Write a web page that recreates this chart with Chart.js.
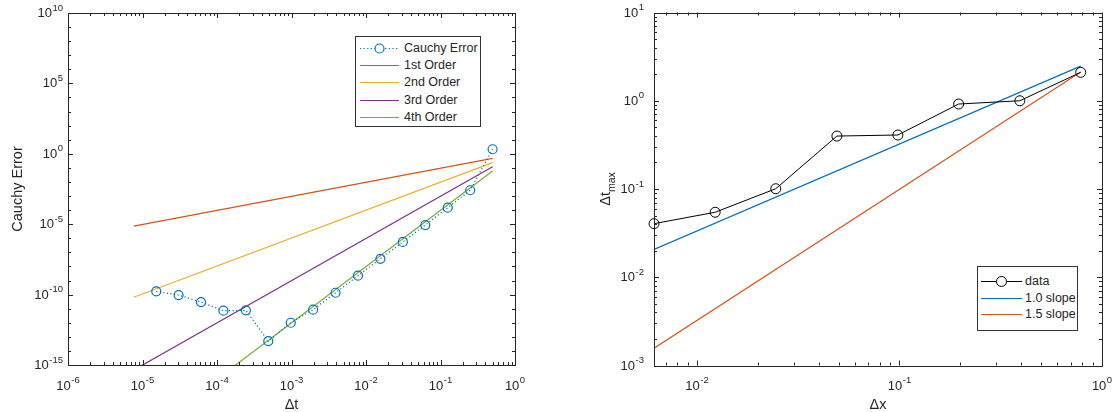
<!DOCTYPE html>
<html>
<head>
<meta charset="utf-8">
<script src="https://cdn.jsdelivr.net/npm/chart.js@4"></script>
<style>
  html, body { margin: 0; padding: 0; background: #fff; }
  body { width: 1113px; height: 412px; position: relative; overflow: hidden; font-family: "Liberation Sans", Arial, sans-serif; }
  .panel { position: absolute; top: 0; }
  .legend { position: absolute; background: #fff; border: 1px solid #333; box-sizing: border-box; font-size: 12.5px; color: #262626; }
  .legend .row { position: absolute; left: 0; height: 16px; display: flex; align-items: center; white-space: nowrap; }
  .legend svg { display: block; }
</style>
</head>
<body>
<div class="panel" style="left:0;width:556px;height:412px;"><canvas id="c1" width="556" height="412"></canvas></div>
<div class="panel" style="left:556px;width:557px;height:412px;"><canvas id="c2" width="557" height="412"></canvas></div>
<div id="leg1" class="legend" style="left:355px;top:36px;width:126px;height:91px;"></div>
<div id="leg2" class="legend" style="left:977px;top:266px;width:101px;height:65px;"></div>
<script>
// ---------- Left panel data ----------
const dtValues = [0.0000153, 0.0000305, 0.000061, 0.000122, 0.000244, 0.000488, 0.000977, 0.00195, 0.0039, 0.0078, 0.0156, 0.03125, 0.0625, 0.125, 0.25, 0.5];
const cauchyError = [1.7e-10, 9.3e-11, 2.95e-11, 7.2e-12, 7.6e-12, 5.0e-14, 1.0e-12, 8.5e-12, 1.35e-10, 2.2e-9, 3.5e-8, 5.5e-7, 8.7e-6, 1.48e-4, 2.57e-3, 2.1];
const orderDt = [7.63e-6, 0.5];
const order1 = [7.4e-6, 0.48];
const order2 = [6.5e-11, 0.234];
const order3 = [4.4e-16, 0.12];
const order4 = [3.4e-21, 0.06];
const leftXTicks = [1e-6, 1e-5, 1e-4, 1e-3, 1e-2, 1e-1, 1];
const leftYTicks = [1e-15, 1e-10, 1e-5, 1, 1e5, 1e10];

// ---------- Right panel data ----------
const dxValues = [0.00614, 0.0123, 0.0245, 0.0491, 0.0982, 0.196, 0.393, 0.785];
const dtMax = [0.0405, 0.0545, 0.1007, 0.398, 0.409, 0.918, 1.0, 2.1];
const slopeDx = [0.00614, 0.785];
const slope10 = [0.0207, 2.47];
const slope15 = [0.00157, 2.12];
const rightXTicks = [1e-2, 1e-1, 1];
const rightYTicks = [1e-3, 1e-2, 1e-1, 1, 10];

const AX = '#262626';
const FONT = '"Liberation Sans", Arial, sans-serif';
function pts(xs, ys) { return xs.map((x, i) => ({x: x, y: ys[i]})); }

function minorList(lo, hi, perDecade, majors) {
  const out = [];
  const a = Math.floor(Math.log10(lo)), b = Math.ceil(Math.log10(hi));
  for (let e = a; e <= b; e++) {
    if (perDecade) {
      const v = Math.pow(10, e);
      if (v >= lo * 0.999 && v <= hi * 1.001 && !majors.some(m => Math.abs(Math.log10(m) - e) < 1e-6)) out.push(v);
    } else {
      for (let k = 2; k <= 9; k++) {
        const v = k * Math.pow(10, e);
        if (v >= lo && v <= hi) out.push(v);
      }
    }
  }
  return out;
}

// draw "10^e" with a true superscript
function drawPow(ctx, v, x, y, align) {
  const e = String(Math.round(Math.log10(v)));
  ctx.font = '13px ' + FONT;
  const wb = ctx.measureText('10').width;
  ctx.font = '9.5px ' + FONT;
  const we = ctx.measureText(e).width;
  const w = wb + we + 0.5;
  const x0 = align === 'right' ? x - w : x - w / 2;
  ctx.textAlign = 'left';
  ctx.textBaseline = 'alphabetic';
  ctx.font = '13px ' + FONT;
  ctx.fillText('10', x0, y);
  ctx.font = '9.5px ' + FONT;
  ctx.fillText(e, x0 + wb + 0.5, y - 6.5);
}

// Inward ticks, box and tick labels, all placed from the scales
const boxTicks = {
  id: 'boxTicks',
  afterDraw(chart, args, opts) {
    const {ctx, chartArea: ca} = chart;
    const xs = chart.scales.x, ys = chart.scales.y;
    ctx.save();
    ctx.strokeStyle = AX;
    ctx.lineWidth = 1;
    const MAJ = 5, MIN = 3;
    ctx.beginPath();
    const xMaj = opts.xMajor, yMaj = opts.yMajor;
    const xMin = minorList(xs.min, xs.max, false, xMaj);
    const yMin = minorList(ys.min, ys.max, opts.yMinorDec, yMaj);
    const vx = (v, len) => {
      const p = Math.round(xs.getPixelForValue(v)) + 0.5;
      ctx.moveTo(p, ca.bottom); ctx.lineTo(p, ca.bottom - len);
      ctx.moveTo(p, ca.top); ctx.lineTo(p, ca.top + len);
    };
    const vy = (v, len) => {
      const p = Math.round(ys.getPixelForValue(v)) + 0.5;
      ctx.moveTo(ca.left, p); ctx.lineTo(ca.left + len, p);
      ctx.moveTo(ca.right, p); ctx.lineTo(ca.right - len, p);
    };
    xMaj.forEach(v => vx(v, MAJ));
    xMin.forEach(v => vx(v, MIN));
    yMaj.forEach(v => vy(v, MAJ));
    yMin.forEach(v => vy(v, MIN));
    ctx.stroke();
    ctx.strokeRect(Math.round(ca.left) + 0.5, Math.round(ca.top) + 0.5, Math.round(ca.right - ca.left), Math.round(ca.bottom - ca.top));
    // tick labels
    ctx.fillStyle = AX;
    xMaj.forEach(v => drawPow(ctx, v, xs.getPixelForValue(v), ca.bottom + opts.xLabelDrop, 'center'));
    yMaj.forEach(v => drawPow(ctx, v, ca.left - opts.yLabelGap, ys.getPixelForValue(v) + 4, 'right'));
    // optional subscripted y title
    if (opts.yTitle) {
      const t = opts.yTitle;
      ctx.save();
      ctx.translate(t.x, (ca.top + ca.bottom) / 2);
      ctx.rotate(-Math.PI / 2);
      ctx.font = '14.5px ' + FONT;
      const w1 = ctx.measureText(t.main).width;
      ctx.font = '10.5px ' + FONT;
      const w2 = ctx.measureText(t.sub).width;
      const s = -(w1 + w2) / 2;
      ctx.textAlign = 'left'; ctx.textBaseline = 'alphabetic';
      ctx.font = '14.5px ' + FONT;
      ctx.fillText(t.main, s, 0);
      ctx.font = '10.5px ' + FONT;
      ctx.fillText(t.sub, s + w1, 5);
      ctx.restore();
    }
    ctx.restore();
  }
};

function logAxis(min, max, ticks, title, opt) {
  return {
    type: 'logarithmic', min: min, max: max,
    afterBuildTicks: s => { s.ticks = ticks.map(v => ({value: v, major: true})); },
    afterFit: opt.afterFit,
    grid: { display: false, drawTicks: false },
    border: { display: false },
    ticks: { display: false },
    title: {
      display: !!title, text: title || '', color: AX,
      font: { family: FONT, size: 14.5, lineHeight: 1.0 },
      padding: opt.titlePad
    }
  };
}

// ---------- Left chart ----------
const ds1 = [
  { label: 'Cauchy Error', data: pts(dtValues, cauchyError), showLine: true,
    borderColor: '#0072BD', borderWidth: 1.2, borderDash: [1.2, 2.4],
    pointRadius: 4.5, pointBorderWidth: 1.2, pointBorderColor: '#0072BD', pointBackgroundColor: 'rgba(0,0,0,0)', pointStyle: 'circle' },
  { label: '1st Order', data: pts(orderDt, order1), showLine: true, borderColor: '#D95319', borderWidth: 1.2, pointRadius: 0 },
  { label: '2nd Order', data: pts(orderDt, order2), showLine: true, borderColor: '#EDB120', borderWidth: 1.2, pointRadius: 0 },
  { label: '3rd Order', data: pts(orderDt, order3), showLine: true, borderColor: '#7E2F8E', borderWidth: 1.2, pointRadius: 0 },
  { label: '4th Order', data: pts(orderDt, order4), showLine: true, borderColor: '#77AC30', borderWidth: 1.2, pointRadius: 0 }
];

const chart1 = new Chart(document.getElementById('c1'), {
  type: 'scatter',
  data: { datasets: ds1 },
  options: {
    responsive: false, animation: false, events: [],
    layout: { padding: { left: 0, top: 13, right: 41, bottom: 0 } },
    plugins: { legend: { display: false }, tooltip: { enabled: false },
      boxTicks: { xMajor: leftXTicks, yMajor: leftYTicks, yMinorDec: true, xLabelDrop: 24.5, yLabelGap: 5 } },
    scales: {
      x: logAxis(1e-6, 1, leftXTicks, '\u0394t', { titlePad: {top: 0, bottom: 0}, afterFit: s => { s.height = 47; } }),
      y: logAxis(1e-15, 1e10, leftYTicks, 'Cauchy Error', { titlePad: {top: 11, bottom: 0}, afterFit: s => { s.width = 68; } })
    }
  },
  plugins: [boxTicks]
});

// ---------- Right chart ----------
const ds2 = [
  { label: 'data', data: pts(dxValues, dtMax), showLine: true, clip: false,
    borderColor: '#000000', borderWidth: 1, pointRadius: 5, pointBorderWidth: 1,
    pointBorderColor: '#000000', pointBackgroundColor: 'rgba(0,0,0,0)', pointStyle: 'circle' },
  { label: '1.0 slope', data: pts(slopeDx, slope10), showLine: true, borderColor: '#0072BD', borderWidth: 1.2, pointRadius: 0 },
  { label: '1.5 slope', data: pts(slopeDx, slope15), showLine: true, borderColor: '#D95319', borderWidth: 1.2, pointRadius: 0 }
];

const chart2 = new Chart(document.getElementById('c2'), {
  type: 'scatter',
  data: { datasets: ds2 },
  options: {
    responsive: false, animation: false, events: [],
    layout: { padding: { left: 30, top: 12.5, right: 11, bottom: 0 } },
    plugins: { legend: { display: false }, tooltip: { enabled: false },
      boxTicks: { xMajor: rightXTicks, yMajor: rightYTicks, yMinorDec: false, xLabelDrop: 24, yLabelGap: 10,
        yTitle: { main: '\u0394t', sub: 'max', x: 610 - 556 } } },
    scales: {
      x: logAxis(0.0061359, 1, rightXTicks, '\u0394x', { titlePad: {top: 0, bottom: 0}, afterFit: s => { s.height = 46.5; } }),
      y: logAxis(1e-3, 10, rightYTicks, '', { titlePad: {top: 0, bottom: 0}, afterFit: s => { s.width = 68; } })
    }
  },
  plugins: [boxTicks]
});

// ---------- HTML legends built from the datasets ----------
function buildLegend(el, datasets, opt) {
  datasets.forEach((d, i) => {
    const row = document.createElement('div');
    row.className = 'row';
    row.style.top = (opt.first + i * opt.step - 8) + 'px';
    const w = opt.sample;
    const dash = d.borderDash ? 'stroke-dasharray="' + d.borderDash.join(' ') + '"' : '';
    let svg = '<svg width="' + (w + opt.gap) + '" height="16"><line x1="' + opt.inset + '" y1="8.5" x2="' + (opt.inset + w) + '" y2="8.5" stroke="' + d.borderColor + '" stroke-width="' + d.borderWidth + '" ' + dash + '/>';
    if (d.pointRadius > 0) {
      svg += '<circle cx="' + (opt.inset + w / 2) + '" cy="8.5" r="' + d.pointRadius + '" fill="#fff" stroke="' + d.pointBorderColor + '" stroke-width="' + d.pointBorderWidth + '"/>';
    }
    svg += '</svg>';
    row.innerHTML = svg + '<span>' + d.label + '</span>';
    el.appendChild(row);
  });
}
buildLegend(document.getElementById('leg1'), ds1, { first: 11, step: 17.2, sample: 39, inset: 4, gap: 9 });
buildLegend(document.getElementById('leg2'), ds2, { first: 14, step: 16.7, sample: 41, inset: 3, gap: 6 });
</script>
</body>
</html>
